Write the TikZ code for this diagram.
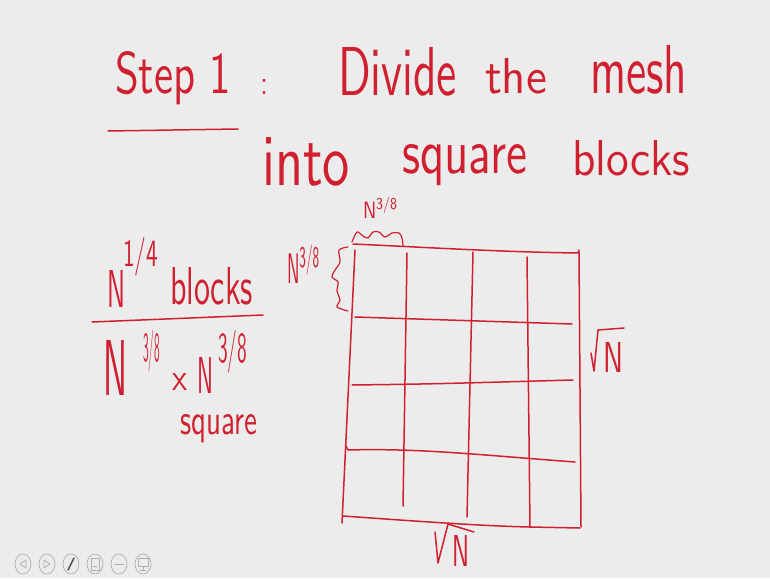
\documentclass[tikz,border=0pt]{standalone}
\usepackage{graphicx}
\definecolor{ink}{RGB}{208,32,48}
\definecolor{bg}{RGB}{236,236,236}
\definecolor{icon}{RGB}{175,175,175}
\newcommand\hw[3]{\resizebox{#1pt}{#2pt}{#3}}
\begin{document}
\begin{tikzpicture}[x=1pt,y=-1pt,
  ink/.style={inner sep=0pt, outer sep=0pt, text=ink, anchor=base west, font=\sffamily},
  pen/.style={draw=ink, line width=1.5pt, line cap=round, line join=round},
  btn/.style={draw=icon, line width=0.7pt},
  glyph/.style={draw=icon, line width=0.8pt, line join=round}]
\fill[bg] (0,0) rectangle (770,578);
\useasboundingbox (0,0) rectangle (770,578);

% title
\node[ink] (step) at (115,93) {\hw{116}{42}{Step 1}};
\node[ink] (colon) at (260,94) {\hw{8}{15}{:}};
\node[ink] (divide) at (338,95) {\hw{119}{48}{Divide}};
\node[ink] (the) at (485,93) {\hw{62}{35}{the}};
\node[ink] (mesh) at (590,93) {\hw{97}{48}{mesh}};
\node[ink] (into) at (262,185) {\hw{88}{48}{into}};
\node[ink] (square) at (402,173) {\hw{125}{29}{square}};
\node[ink] (blocks) at (572,175) {\hw{118}{35}{blocks}};
\draw[pen] (108,131) -- (238,129);

% left fraction
\node[ink] (n14) at (107,307) {\hw{18}{37}{N}};
\node[ink] (s14) at (123,266) {\hw{35}{29}{1/4}};
\node[ink] (blk) at (170,304) {\hw{83}{37}{blocks}};
\draw[pen] (92,322) -- (263,315);
\node[ink] (na) at (103,395) {\hw{24}{55}{N}};
\node[ink] (sa) at (143,361) {\hw{17}{31}{3/8}};
\node[ink] (times) at (172,390) {\hw{15}{17}{x}};
\node[ink] (nb) at (197,393) {\hw{16}{36}{N}};
\node[ink] (sb) at (218,362) {\hw{29}{32}{3/8}};
\node[ink] (sq) at (180,434) {\hw{77}{20}{square}};

% grid
\draw[pen] (353,244) .. controls (420,247) and (500,252) .. (578,253) -- (579,250);
\draw[pen] (355,250) -- (342,523);
\draw[pen] (579,252) -- (581,527);
\draw[pen] (343,516) .. controls (400,520) and (480,526) .. (530,527) -- (580,528);
\draw[pen] (355,317) -- (572,324);
\draw[pen] (352,385) .. controls (430,384) .. (573,380);
\draw[pen] (346,446) -- (348,450) .. controls (420,448) and (480,455) .. (575,462);
\draw[pen] (407,253) -- (403,506);
\draw[pen] (473,252) -- (467,517);
\draw[pen] (527,257) -- (530,527);

% braces and labels
\draw[pen, line width=1.2pt] plot[smooth] coordinates {(352,242) (357,232) (363,236) (368,238) (373,232) (379,232) (385,237) (392,233) (399,233) (402,238) (403,246)};
\node[ink] (ntop) at (363,218) {\hw{35}{21}{N\textsuperscript{3/8}}};
\draw[pen, line width=1.2pt] plot[smooth] coordinates {(348,247) (339,250) (340,262) (335,270) (332,277) (338,282) (337,291) (340,300) (337,307) (348,311)};
\node[ink] (nleft) at (287,283) {\hw{33}{38}{N\textsuperscript{3/8}}};

% sqrt N labels
\draw[pen] (591,353) -- (594,371) -- (598,330) -- (624,328);
\node[ink] (nr) at (603,372) {\hw{20}{30}{N}};
\draw[pen] (435,532) -- (438,563) -- (448,524) -- (474,532);
\node[ink] (nbot) at (452,566) {\hw{17}{31}{N}};

% player buttons
\foreach \cx in {23,47,71,95,119,143} {\draw[btn] (\cx,564) ellipse [x radius=8, y radius=10];}
\draw[glyph] (26,560) -- (20,564) -- (26,568) -- cycle;
\draw[glyph] (44,560) -- (50,564) -- (44,568) -- cycle;
\draw[draw=black!70, line width=1.4pt, line cap=round] (68,570) -- (74,558);
\draw[glyph] (91,558) rectangle (99,570);
\draw[glyph] (93,566) -- (97,566);
\draw[glyph] (114,564) -- (124,564);
\draw[glyph] (138,558) rectangle (148,566);
\draw[glyph] (143,566) -- (143,570) (140,570) -- (146,570);
\end{tikzpicture}
\end{document}
